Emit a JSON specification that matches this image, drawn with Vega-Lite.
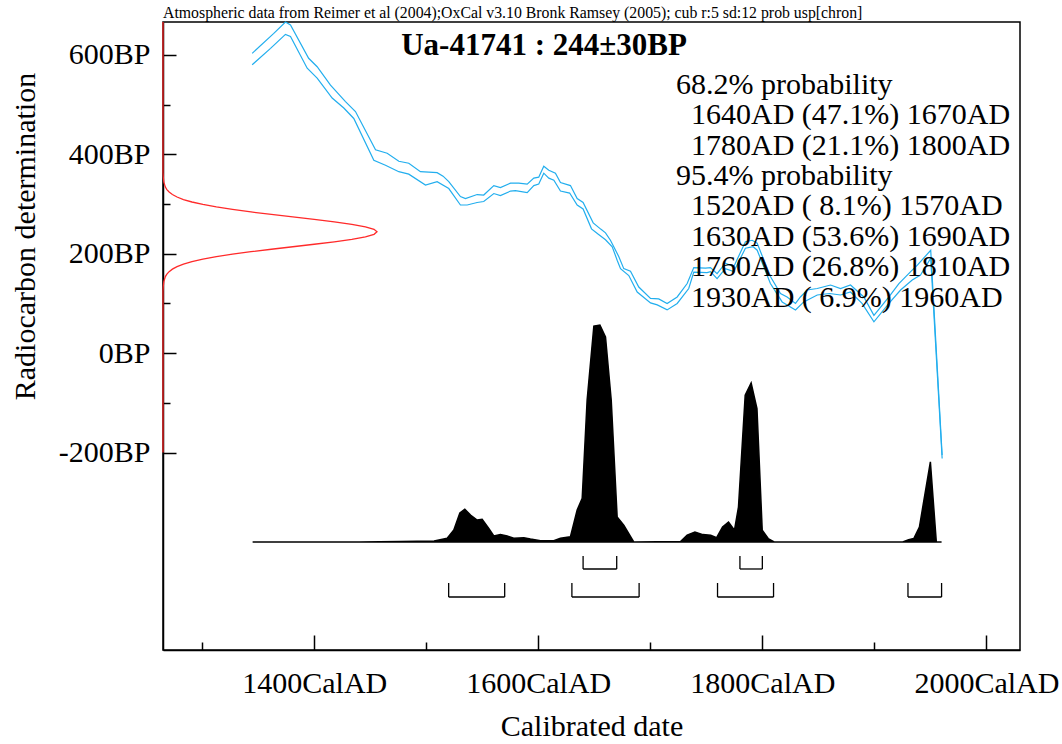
{
  "$schema": "https://vega.github.io/schema/vega-lite/v6.json",
  "width": 857,
  "height": 628,
  "autosize": "none",
  "padding": {"left": 163, "top": 22, "right": 42, "bottom": 94},
  "background": "white",
  "config": {
    "view": {"stroke": "black", "strokeWidth": 1.5},
    "font": "Liberation Serif"
  },
  "title": {
    "text": "Atmospheric data from Reimer et al (2004);OxCal v3.10 Bronk Ramsey (2005); cub r:5 sd:12 prob usp[chron]",
    "anchor": "start",
    "frame": "group",
    "font": "Liberation Serif",
    "fontSize": 15.8,
    "fontWeight": "normal",
    "color": "black",
    "baseline": "alphabetic",
    "offset": 4,
    "dy": 18
  },
  "datasets": {
    "calib": [
      {"date": 1344.6, "bp": 603, "edge": "upper"},
      {"date": 1363.9, "bp": 643, "edge": "upper"},
      {"date": 1374.3, "bp": 666, "edge": "upper"},
      {"date": 1378.8, "bp": 660, "edge": "upper"},
      {"date": 1395.0, "bp": 593, "edge": "upper"},
      {"date": 1402.6, "bp": 576, "edge": "upper"},
      {"date": 1414.5, "bp": 539, "edge": "upper"},
      {"date": 1427.9, "bp": 506, "edge": "upper"},
      {"date": 1436.8, "bp": 486, "edge": "upper"},
      {"date": 1454.7, "bp": 409, "edge": "upper"},
      {"date": 1465.1, "bp": 402, "edge": "upper"},
      {"date": 1475.5, "bp": 386, "edge": "upper"},
      {"date": 1484.4, "bp": 382, "edge": "upper"},
      {"date": 1494.8, "bp": 365, "edge": "upper"},
      {"date": 1509.7, "bp": 363, "edge": "upper"},
      {"date": 1515.0, "bp": 356, "edge": "upper"},
      {"date": 1520.1, "bp": 345, "edge": "upper"},
      {"date": 1530.5, "bp": 315, "edge": "upper"},
      {"date": 1535.0, "bp": 311, "edge": "upper"},
      {"date": 1545.4, "bp": 319, "edge": "upper"},
      {"date": 1551.3, "bp": 318, "edge": "upper"},
      {"date": 1560.3, "bp": 337, "edge": "upper"},
      {"date": 1566.2, "bp": 333, "edge": "upper"},
      {"date": 1575.2, "bp": 342, "edge": "upper"},
      {"date": 1582.6, "bp": 342, "edge": "upper"},
      {"date": 1590.1, "bp": 340, "edge": "upper"},
      {"date": 1596.0, "bp": 352, "edge": "upper"},
      {"date": 1600.4, "bp": 354, "edge": "upper"},
      {"date": 1604.9, "bp": 376, "edge": "upper"},
      {"date": 1609.4, "bp": 368, "edge": "upper"},
      {"date": 1615.3, "bp": 362, "edge": "upper"},
      {"date": 1619.8, "bp": 343, "edge": "upper"},
      {"date": 1628.7, "bp": 337, "edge": "upper"},
      {"date": 1634.7, "bp": 311, "edge": "upper"},
      {"date": 1640.0, "bp": 303, "edge": "upper"},
      {"date": 1649.0, "bp": 262, "edge": "upper"},
      {"date": 1656.0, "bp": 249, "edge": "upper"},
      {"date": 1660.0, "bp": 242, "edge": "upper"},
      {"date": 1664.4, "bp": 227, "edge": "upper"},
      {"date": 1671.9, "bp": 194, "edge": "upper"},
      {"date": 1676.3, "bp": 170, "edge": "upper"},
      {"date": 1682.3, "bp": 165, "edge": "upper"},
      {"date": 1689.7, "bp": 133, "edge": "upper"},
      {"date": 1700.2, "bp": 110, "edge": "upper"},
      {"date": 1707.5, "bp": 109, "edge": "upper"},
      {"date": 1715.0, "bp": 100, "edge": "upper"},
      {"date": 1724.0, "bp": 113, "edge": "upper"},
      {"date": 1732.9, "bp": 140, "edge": "upper"},
      {"date": 1738.8, "bp": 172, "edge": "upper"},
      {"date": 1749.3, "bp": 171, "edge": "upper"},
      {"date": 1753.7, "bp": 172, "edge": "upper"},
      {"date": 1759.6, "bp": 160, "edge": "upper"},
      {"date": 1767.0, "bp": 181, "edge": "upper"},
      {"date": 1774.5, "bp": 174, "edge": "upper"},
      {"date": 1784.9, "bp": 224, "edge": "upper"},
      {"date": 1790.9, "bp": 227, "edge": "upper"},
      {"date": 1795.4, "bp": 221, "edge": "upper"},
      {"date": 1807.2, "bp": 154, "edge": "upper"},
      {"date": 1816.2, "bp": 120, "edge": "upper"},
      {"date": 1822.1, "bp": 113, "edge": "upper"},
      {"date": 1829.6, "bp": 100, "edge": "upper"},
      {"date": 1834.0, "bp": 113, "edge": "upper"},
      {"date": 1840.0, "bp": 127, "edge": "upper"},
      {"date": 1849.0, "bp": 130, "edge": "upper"},
      {"date": 1860.9, "bp": 137, "edge": "upper"},
      {"date": 1869.8, "bp": 130, "edge": "upper"},
      {"date": 1878.7, "bp": 137, "edge": "upper"},
      {"date": 1890.6, "bp": 113, "edge": "upper"},
      {"date": 1899.6, "bp": 76, "edge": "upper"},
      {"date": 1913.0, "bp": 113, "edge": "upper"},
      {"date": 1921.9, "bp": 140, "edge": "upper"},
      {"date": 1932.4, "bp": 164, "edge": "upper"},
      {"date": 1938.4, "bp": 177, "edge": "upper"},
      {"date": 1950.3, "bp": 207, "edge": "upper"},
      {"date": 1960.5, "bp": -205, "edge": "upper"},
      {"date": 1344.6, "bp": 580, "edge": "lower"},
      {"date": 1361.0, "bp": 613, "edge": "lower"},
      {"date": 1374.3, "bp": 641, "edge": "lower"},
      {"date": 1378.8, "bp": 637, "edge": "lower"},
      {"date": 1393.7, "bp": 573, "edge": "lower"},
      {"date": 1402.6, "bp": 553, "edge": "lower"},
      {"date": 1416.0, "bp": 513, "edge": "lower"},
      {"date": 1426.4, "bp": 493, "edge": "lower"},
      {"date": 1435.3, "bp": 472, "edge": "lower"},
      {"date": 1453.2, "bp": 388, "edge": "lower"},
      {"date": 1463.6, "bp": 378, "edge": "lower"},
      {"date": 1475.5, "bp": 365, "edge": "lower"},
      {"date": 1484.4, "bp": 360, "edge": "lower"},
      {"date": 1499.3, "bp": 338, "edge": "lower"},
      {"date": 1509.7, "bp": 345, "edge": "lower"},
      {"date": 1520.1, "bp": 331, "edge": "lower"},
      {"date": 1530.5, "bp": 298, "edge": "lower"},
      {"date": 1536.5, "bp": 298, "edge": "lower"},
      {"date": 1545.4, "bp": 303, "edge": "lower"},
      {"date": 1551.3, "bp": 305, "edge": "lower"},
      {"date": 1560.3, "bp": 321, "edge": "lower"},
      {"date": 1566.2, "bp": 317, "edge": "lower"},
      {"date": 1575.2, "bp": 326, "edge": "lower"},
      {"date": 1579.6, "bp": 327, "edge": "lower"},
      {"date": 1590.1, "bp": 323, "edge": "lower"},
      {"date": 1596.0, "bp": 337, "edge": "lower"},
      {"date": 1600.4, "bp": 340, "edge": "lower"},
      {"date": 1604.9, "bp": 362, "edge": "lower"},
      {"date": 1609.4, "bp": 352, "edge": "lower"},
      {"date": 1613.9, "bp": 348, "edge": "lower"},
      {"date": 1619.8, "bp": 326, "edge": "lower"},
      {"date": 1628.0, "bp": 322, "edge": "lower"},
      {"date": 1634.7, "bp": 298, "edge": "lower"},
      {"date": 1640.0, "bp": 290, "edge": "lower"},
      {"date": 1647.5, "bp": 250, "edge": "lower"},
      {"date": 1653.0, "bp": 240, "edge": "lower"},
      {"date": 1660.0, "bp": 228, "edge": "lower"},
      {"date": 1666.0, "bp": 214, "edge": "lower"},
      {"date": 1670.4, "bp": 187, "edge": "lower"},
      {"date": 1673.4, "bp": 170, "edge": "lower"},
      {"date": 1680.8, "bp": 156, "edge": "lower"},
      {"date": 1688.3, "bp": 123, "edge": "lower"},
      {"date": 1700.2, "bp": 101, "edge": "lower"},
      {"date": 1706.2, "bp": 97, "edge": "lower"},
      {"date": 1715.0, "bp": 87, "edge": "lower"},
      {"date": 1724.0, "bp": 100, "edge": "lower"},
      {"date": 1734.3, "bp": 130, "edge": "lower"},
      {"date": 1738.8, "bp": 163, "edge": "lower"},
      {"date": 1750.7, "bp": 162, "edge": "lower"},
      {"date": 1753.7, "bp": 164, "edge": "lower"},
      {"date": 1759.6, "bp": 150, "edge": "lower"},
      {"date": 1767.0, "bp": 170, "edge": "lower"},
      {"date": 1774.5, "bp": 164, "edge": "lower"},
      {"date": 1784.9, "bp": 211, "edge": "lower"},
      {"date": 1791.8, "bp": 214, "edge": "lower"},
      {"date": 1795.4, "bp": 207, "edge": "lower"},
      {"date": 1807.2, "bp": 140, "edge": "lower"},
      {"date": 1817.7, "bp": 103, "edge": "lower"},
      {"date": 1829.6, "bp": 87, "edge": "lower"},
      {"date": 1837.0, "bp": 103, "edge": "lower"},
      {"date": 1849.0, "bp": 117, "edge": "lower"},
      {"date": 1860.0, "bp": 120, "edge": "lower"},
      {"date": 1869.8, "bp": 117, "edge": "lower"},
      {"date": 1878.7, "bp": 123, "edge": "lower"},
      {"date": 1889.0, "bp": 100, "edge": "lower"},
      {"date": 1899.6, "bp": 63, "edge": "lower"},
      {"date": 1913.0, "bp": 100, "edge": "lower"},
      {"date": 1923.4, "bp": 127, "edge": "lower"},
      {"date": 1933.8, "bp": 147, "edge": "lower"},
      {"date": 1941.2, "bp": 157, "edge": "lower"},
      {"date": 1950.3, "bp": 191, "edge": "lower"},
      {"date": 1960.5, "bp": -212, "edge": "lower"}
    ],
    "dist": [
      {"date": 1345.0, "p": 0},
      {"date": 1440.0, "p": 0},
      {"date": 1477.0, "p": 0.002},
      {"date": 1507.0, "p": 0.005},
      {"date": 1518.7, "p": 0.017},
      {"date": 1524.6, "p": 0.055},
      {"date": 1530.0, "p": 0.134},
      {"date": 1534.4, "p": 0.151},
      {"date": 1539.5, "p": 0.124},
      {"date": 1545.4, "p": 0.101},
      {"date": 1549.9, "p": 0.105},
      {"date": 1555.8, "p": 0.063},
      {"date": 1560.3, "p": 0.028},
      {"date": 1566.2, "p": 0.035},
      {"date": 1572.2, "p": 0.028},
      {"date": 1578.1, "p": 0.017},
      {"date": 1587.1, "p": 0.020},
      {"date": 1593.0, "p": 0.014},
      {"date": 1602.0, "p": 0.006},
      {"date": 1613.8, "p": 0.006},
      {"date": 1619.8, "p": 0.017},
      {"date": 1628.7, "p": 0.024},
      {"date": 1634.7, "p": 0.147},
      {"date": 1639.2, "p": 0.201},
      {"date": 1643.6, "p": 0.654},
      {"date": 1649.6, "p": 0.995},
      {"date": 1655.0, "p": 1.0},
      {"date": 1660.0, "p": 0.945},
      {"date": 1665.1, "p": 0.654},
      {"date": 1670.4, "p": 0.115},
      {"date": 1676.3, "p": 0.078},
      {"date": 1685.2, "p": 0},
      {"date": 1727.0, "p": 0.002},
      {"date": 1732.9, "p": 0.032},
      {"date": 1739.8, "p": 0.046},
      {"date": 1746.9, "p": 0.034},
      {"date": 1753.9, "p": 0.031},
      {"date": 1759.2, "p": 0.020},
      {"date": 1764.5, "p": 0.069},
      {"date": 1769.8, "p": 0.092},
      {"date": 1775.1, "p": 0.054},
      {"date": 1778.7, "p": 0.161},
      {"date": 1784.7, "p": 0.676},
      {"date": 1790.0, "p": 0.733},
      {"date": 1795.2, "p": 0.615},
      {"date": 1799.9, "p": 0.054},
      {"date": 1805.2, "p": 0.016},
      {"date": 1810.5, "p": 0},
      {"date": 1925.3, "p": 0},
      {"date": 1930.6, "p": 0.011},
      {"date": 1935.2, "p": 0.016},
      {"date": 1940.2, "p": 0.069},
      {"date": 1950.0, "p": 0.369},
      {"date": 1955.3, "p": 0},
      {"date": 1960.0, "p": 0}
    ],
    "ranges": [
      {"level": "68.2%", "from": 1640, "to": 1670},
      {"level": "68.2%", "from": 1780, "to": 1800},
      {"level": "95.4%", "from": 1520, "to": 1570},
      {"level": "95.4%", "from": 1630, "to": 1690},
      {"level": "95.4%", "from": 1760, "to": 1810},
      {"level": "95.4%", "from": 1930, "to": 1960}
    ],
    "gauss": [
      {"bp": -200, "dens": 0},
      {"bp": 124, "dens": 0},
      {"bp": 134, "dens": 0.0012},
      {"bp": 144, "dens": 0.0039},
      {"bp": 154, "dens": 0.0111},
      {"bp": 159, "dens": 0.0181},
      {"bp": 164, "dens": 0.0286},
      {"bp": 169, "dens": 0.0439},
      {"bp": 174, "dens": 0.0657},
      {"bp": 179, "dens": 0.0956},
      {"bp": 184, "dens": 0.1353},
      {"bp": 189, "dens": 0.1863},
      {"bp": 194, "dens": 0.2494},
      {"bp": 199, "dens": 0.3247},
      {"bp": 204, "dens": 0.4111},
      {"bp": 209, "dens": 0.5063},
      {"bp": 214, "dens": 0.6065},
      {"bp": 219, "dens": 0.7066},
      {"bp": 224, "dens": 0.8007},
      {"bp": 229, "dens": 0.8825},
      {"bp": 234, "dens": 0.9460},
      {"bp": 239, "dens": 0.9862},
      {"bp": 244, "dens": 1.0},
      {"bp": 249, "dens": 0.9862},
      {"bp": 254, "dens": 0.9460},
      {"bp": 259, "dens": 0.8825},
      {"bp": 264, "dens": 0.8007},
      {"bp": 269, "dens": 0.7066},
      {"bp": 274, "dens": 0.6065},
      {"bp": 279, "dens": 0.5063},
      {"bp": 284, "dens": 0.4111},
      {"bp": 289, "dens": 0.3247},
      {"bp": 294, "dens": 0.2494},
      {"bp": 299, "dens": 0.1863},
      {"bp": 304, "dens": 0.1353},
      {"bp": 309, "dens": 0.0956},
      {"bp": 314, "dens": 0.0657},
      {"bp": 319, "dens": 0.0439},
      {"bp": 324, "dens": 0.0286},
      {"bp": 329, "dens": 0.0181},
      {"bp": 334, "dens": 0.0111},
      {"bp": 344, "dens": 0.0039},
      {"bp": 354, "dens": 0.0012},
      {"bp": 364, "dens": 0},
      {"bp": 666, "dens": 0}
    ]
  },
  "layer": [
    {
      "layer": [
        {
          "data": {"name": "calib"},
          "mark": {"type": "line", "color": "#22aeee", "strokeWidth": 1.2},
          "encoding": {
            "x": {
              "field": "date", "type": "quantitative",
              "scale": {"domain": [1265, 2030], "nice": false, "zero": false},
              "axis": {
                "values": [1300, 1400, 1500, 1600, 1700, 1800, 1900, 2000],
                "labelExpr": "datum.value % 200 === 0 ? datum.value + 'CalAD' : ''",
                "tickSize": {"condition": {"test": "datum.value % 200 === 0", "value": -15}, "value": -8},
                "tickColor": "black", "tickWidth": 1.5,
                "domainColor": "black", "domainWidth": 1.5,
                "labelFont": "Liberation Serif", "labelFontSize": 30, "labelColor": "black",
                "labelPadding": 33, "labelOverlap": false, "labelBound": false, "labelFlush": false,
                "grid": false,
                "title": "Calibrated date",
                "titleFont": "Liberation Serif", "titleFontSize": 30, "titleFontWeight": "normal", "titleColor": "black",
                "titleBaseline": "alphabetic", "titleY": 85.5
              }
            },
            "y": {
              "field": "bp", "type": "quantitative",
              "scale": {"domain": [-597, 666], "nice": false, "zero": false},
              "axis": {
                "values": [-200, -100, 0, 100, 200, 300, 400, 500, 600],
                "labelExpr": "datum.value % 200 === 0 ? datum.value + 'BP' : ''",
                "tickSize": {"condition": {"test": "datum.value % 200 === 0", "value": -13}, "value": -7},
                "tickColor": "black", "tickWidth": 1.5,
                "domainColor": "black", "domainWidth": 1.5,
                "labelFont": "Liberation Serif", "labelFontSize": 30, "labelColor": "black",
                "labelPadding": 26, "labelOverlap": false, "labelBound": false, "labelFlush": false,
                "grid": false,
                "title": "Radiocarbon determination",
                "titleFont": "Liberation Serif", "titleFontSize": 30, "titleFontWeight": "normal", "titleColor": "black",
                "titleAngle": -90, "titleAlign": "center", "titleBaseline": "middle",
                "titleX": -138, "titleY": 214
              }
            },
            "detail": {"field": "edge", "type": "nominal"}
          }
        },
        {
          "data": {"values": [{}]},
          "mark": {"type": "text", "font": "Liberation Serif", "fontSize": 31, "fontWeight": "bold", "align": "center", "baseline": "alphabetic", "color": "black"},
          "encoding": {
            "x": {"datum": 1605.1, "type": "quantitative"},
            "y": {"datum": 599, "type": "quantitative"},
            "text": {"value": "Ua-41741 : 244±30BP"}
          }
        },
        {
          "data": {"values": [{}]},
          "mark": {"type": "text", "font": "Liberation Serif", "fontSize": 30, "align": "left", "baseline": "alphabetic", "color": "black"},
          "encoding": {
            "x": {"datum": 1722.9, "type": "quantitative"},
            "y": {"datum": 521.6, "type": "quantitative"},
            "text": {"value": "68.2% probability"}
          }
        },
        {
          "data": {"values": [{}]},
          "mark": {"type": "text", "font": "Liberation Serif", "fontSize": 30, "align": "left", "baseline": "alphabetic", "lineHeight": 30.4, "color": "black"},
          "encoding": {
            "x": {"datum": 1736.3, "type": "quantitative"},
            "y": {"datum": 460.5, "type": "quantitative"},
            "text": {"value": ["1640AD (47.1%) 1670AD", "1780AD (21.1%) 1800AD"]}
          }
        },
        {
          "data": {"values": [{}]},
          "mark": {"type": "text", "font": "Liberation Serif", "fontSize": 30, "align": "left", "baseline": "alphabetic", "color": "black"},
          "encoding": {
            "x": {"datum": 1722.9, "type": "quantitative"},
            "y": {"datum": 338.2, "type": "quantitative"},
            "text": {"value": "95.4% probability"}
          }
        },
        {
          "data": {"values": [{}]},
          "mark": {"type": "text", "font": "Liberation Serif", "fontSize": 30, "align": "left", "baseline": "alphabetic", "lineHeight": 30.4, "color": "black"},
          "encoding": {
            "x": {"datum": 1736.3, "type": "quantitative"},
            "y": {"datum": 277.0, "type": "quantitative"},
            "text": {"value": [
              "1520AD ( 8.1%) 1570AD",
              "1630AD (53.6%) 1690AD",
              "1760AD (26.8%) 1810AD",
              "1930AD ( 6.9%) 1960AD"
            ]}
          }
        }
      ]
    },
    {
      "layer": [
        {
          "data": {"name": "dist"},
          "mark": {"type": "area", "color": "black", "stroke": "black", "strokeWidth": 1.5},
          "encoding": {
            "x": {"field": "date", "type": "quantitative", "scale": {"domain": [1265, 2030], "nice": false, "zero": false}, "axis": null},
            "y": {"field": "p", "type": "quantitative", "scale": {"domain": [-0.4977, 2.3963], "nice": false, "zero": false}, "axis": null},
            "y2": {"datum": 0}
          }
        },
        {
          "data": {"name": "ranges"},
          "transform": [{"filter": "datum.level === '68.2%'"}],
          "mark": {"type": "rule", "color": "black", "strokeWidth": 1.3},
          "encoding": {
            "x": {"field": "from", "type": "quantitative", "axis": null},
            "x2": {"field": "to"},
            "y": {"datum": -0.1244, "type": "quantitative", "axis": null}
          }
        },
        {
          "data": {"name": "ranges"},
          "transform": [{"filter": "datum.level === '68.2%'"}],
          "mark": {"type": "rule", "color": "black", "strokeWidth": 1.3},
          "encoding": {
            "x": {"field": "from", "type": "quantitative", "axis": null},
            "y": {"datum": -0.1244, "type": "quantitative", "axis": null},
            "y2": {"datum": -0.0645}
          }
        },
        {
          "data": {"name": "ranges"},
          "transform": [{"filter": "datum.level === '68.2%'"}],
          "mark": {"type": "rule", "color": "black", "strokeWidth": 1.3},
          "encoding": {
            "x": {"field": "to", "type": "quantitative", "axis": null},
            "y": {"datum": -0.1244, "type": "quantitative", "axis": null},
            "y2": {"datum": -0.0645}
          }
        },
        {
          "data": {"name": "ranges"},
          "transform": [{"filter": "datum.level === '95.4%'"}],
          "mark": {"type": "rule", "color": "black", "strokeWidth": 1.3},
          "encoding": {
            "x": {"field": "from", "type": "quantitative", "axis": null},
            "x2": {"field": "to"},
            "y": {"datum": -0.2535, "type": "quantitative", "axis": null}
          }
        },
        {
          "data": {"name": "ranges"},
          "transform": [{"filter": "datum.level === '95.4%'"}],
          "mark": {"type": "rule", "color": "black", "strokeWidth": 1.3},
          "encoding": {
            "x": {"field": "from", "type": "quantitative", "axis": null},
            "y": {"datum": -0.2535, "type": "quantitative", "axis": null},
            "y2": {"datum": -0.189}
          }
        },
        {
          "data": {"name": "ranges"},
          "transform": [{"filter": "datum.level === '95.4%'"}],
          "mark": {"type": "rule", "color": "black", "strokeWidth": 1.3},
          "encoding": {
            "x": {"field": "to", "type": "quantitative", "axis": null},
            "y": {"datum": -0.2535, "type": "quantitative", "axis": null},
            "y2": {"datum": -0.189}
          }
        }
      ]
    },
    {
      "data": {"name": "gauss"},
      "mark": {"type": "line", "color": "#ff2a2a", "strokeWidth": 1.3},
      "encoding": {
        "x": {"field": "dens", "type": "quantitative", "scale": {"domain": [0, 4.005], "nice": false, "zero": false}, "axis": null},
        "y": {"field": "bp", "type": "quantitative", "scale": {"domain": [-597, 666], "nice": false, "zero": false}, "axis": null},
        "order": {"field": "bp", "type": "quantitative"}
      }
    }
  ],
  "resolve": {"scale": {"x": "independent", "y": "independent"}}
}
